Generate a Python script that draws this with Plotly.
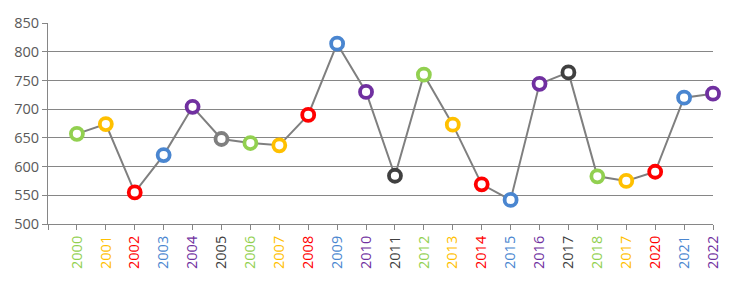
import plotly.graph_objects as go

years = ["2000", "2001", "2002", "2003", "2004", "2005", "2006", "2007", "2008", "2009",
         "2010", "2011", "2012", "2013", "2014", "2015", "2016", "2017", "2018", "2017",
         "2020", "2021", "2022"]
values = [657, 674, 555, 620, 704, 648, 641, 637, 690, 814,
          730, 584, 760, 673, 569, 542, 744, 764, 583, 575,
          591, 720, 727]
marker_colors = ["#92D050", "#FFC000", "#FF0000", "#4A86D0", "#7030A0", "#7F7F7F",
                 "#92D050", "#FFC000", "#FF0000", "#4A86D0", "#7030A0", "#404040",
                 "#92D050", "#FFC000", "#FF0000", "#4A86D0", "#7030A0", "#404040",
                 "#92D050", "#FFC000", "#FF0000", "#4A86D0", "#7030A0"]
label_colors = ["#92D050", "#FFC000", "#FF0000", "#4A86D0", "#7030A0", "#404040",
                "#92D050", "#FFC000", "#FF0000", "#4A86D0", "#7030A0", "#404040",
                "#92D050", "#FFC000", "#FF0000", "#4A86D0", "#7030A0", "#404040",
                "#92D050", "#FFC000", "#FF0000", "#4A86D0", "#7030A0"]
y_ticks = [500, 550, 600, 650, 700, 750, 800, 850]

xs = list(range(len(years)))

fig = go.Figure()
fig.add_trace(go.Scatter(
    x=xs, y=values, mode="lines+markers",
    line=dict(color="#7F7F7F", width=2),
    marker=dict(size=12, color="white", line=dict(color=marker_colors, width=3.8)),
    showlegend=False, cliponaxis=False,
))

ticktext = [f"<span style='color:{c}'>{y}</span>" for y, c in zip(years, label_colors)]

fig.update_layout(
    width=738, height=287,
    margin=dict(l=48, r=25, t=23, b=63),
    paper_bgcolor="white", plot_bgcolor="white",
    font=dict(family="Open Sans, Liberation Sans, sans-serif", size=14, color="#595959"),
    xaxis=dict(
        range=[-1, 22], tickmode="array", tickvals=[-1] + xs, ticktext=[""] + ticktext,
        tickangle=-90, showgrid=False, zeroline=False,
        showline=True, linecolor="#868686", linewidth=1,
        ticks="outside", ticklen=5, tickcolor="#868686", tickfont=dict(size=14.5),
    ),
    yaxis=dict(
        range=[500, 850], tickmode="array", tickvals=y_ticks,
        showgrid=True, gridcolor="#868686", gridwidth=1, zeroline=False,
        showline=True, linecolor="#868686", linewidth=1,
        ticks="outside", ticklen=5, tickcolor="#868686", tickfont=dict(size=14.5),
    ),
)

fig.write_html("out.html")
